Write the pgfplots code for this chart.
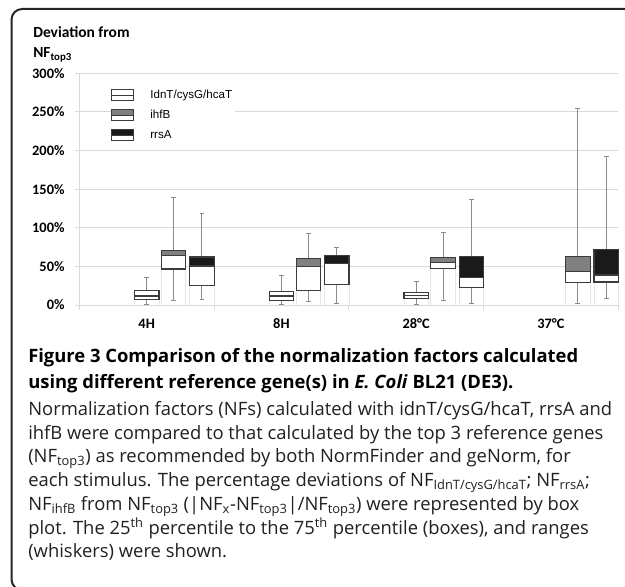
\documentclass[border=0pt]{standalone}
\usepackage{pgfplots}
\pgfplotsset{compat=1.18}
\usepackage{fontspec}
\setmainfont{Open Sans}
\newfontfamily\calib{Carlito}
\newfontfamily\arial{Liberation Sans}
\definecolor{gridc}{HTML}{D9D9D9}
\definecolor{basec}{HTML}{E6E6E6}
\definecolor{boxc}{HTML}{3C3C3C}
\definecolor{whisc}{HTML}{8C8C8C}
\definecolor{ihfc}{HTML}{808080}
\definecolor{rrsc}{HTML}{1A1A1A}
\definecolor{capc}{HTML}{231F20}
\begin{document}
\begin{tikzpicture}
\begin{scope}[x=0.75pt,y=0.75pt]
\useasboundingbox (0,0) rectangle (625,586);
\draw[line width=1.5pt, color=black!85, rounded corners=8pt] (11.5,-4) rectangle (660,577);
\node[anchor=base west, inner sep=0pt, font=\calib\bfseries\fontsize{11.6}{13}\selectfont] at (33,548.3) {Deviation from};
\node[anchor=base west, inner sep=0pt, font=\calib\bfseries\fontsize{11.6}{13}\selectfont] at (33,528) {NF\textsubscript{top3}};
\end{scope}
\begin{axis}[
  at={(59.475pt,210.75pt)}, anchor=south west,
  scale only axis, width=404.25pt, height=173.8pt,
  xmin=-0.5, xmax=3.5, ymin=0, ymax=300, clip=false,
  unbounded coords=jump,
  axis x line*=bottom, axis y line*=left,
  axis line style={draw=gridc, line width=0.6pt},
  ymajorgrids, grid style={draw=gridc, line width=0.6pt},
  ytick={0,50,100,150,200,250,300},
  yticklabels={0\%,50\%,100\%,150\%,200\%,250\%,300\%},
  xtick={0,1,2,3}, xticklabels={4H,8H,28°C,37°C},
  minor xtick={-0.5,0.5,1.5,2.5,3.5},
  tick align=outside, major tick length=3pt, minor tick length=3.75pt,
  every tick/.style={draw=gridc, line width=0.6pt},
  every major x tick/.append style={draw=none},
  ticklabel style={font=\calib\bfseries\fontsize{10.8}{12}\selectfont},
  yticklabel style={xshift=-4.5pt},
  xticklabel style={yshift=-3.75pt},
  /pgf/number format/assume math mode=true,
  legend cell align=left,
  legend style={draw=none, fill=white, at={(0.0588,0.943)}, anchor=north west,
    inner xsep=0pt, inner ysep=0pt, row sep=2.6pt,
    font=\arial\fontsize{8.7}{10}\selectfont,
    nodes={text height=6.5pt, text depth=2pt},
    /tikz/every odd column/.append style={column sep=10pt}},
]
% faint outlines from 0 to the lower quartile
\addplot[draw=basec, line width=0.6pt, forget plot] coordinates {
 (-0.091,0)(-0.091,6.9)(0.091,6.9)(0.091,0) (0,nan)
 (0.109,0)(0.109,46.6)(0.291,46.6)(0.291,0) (0,nan)
 (0.319,0)(0.319,25)(0.501,25)(0.501,0) (0,nan)
 (0.909,0)(0.909,6)(1.091,6)(1.091,0) (0,nan)
 (1.109,0)(1.109,19)(1.291,19)(1.291,0) (0,nan)
 (1.319,0)(1.319,26.8)(1.501,26.8)(1.501,0) (0,nan)
 (1.909,0)(1.909,8)(2.091,8)(2.091,0) (0,nan)
 (2.109,0)(2.109,47.5)(2.291,47.5)(2.291,0) (0,nan)
 (2.319,0)(2.319,23)(2.501,23)(2.501,0) (0,nan)
 (3.109,0)(3.109,29)(3.291,29)(3.291,0) (0,nan)
 (3.319,0)(3.319,29.8)(3.5,29.8)(3.5,0)
};
% whiskers: minimum to maximum
\addplot[draw=whisc, line width=0.7pt, forget plot] coordinates {
 (0,0.5)(0,35) (0,nan)
 (0.2,6)(0.2,139) (0,nan)
 (0.41,7.4)(0.41,118) (0,nan)
 (1,1)(1,38) (0,nan)
 (1.2,4)(1.2,92) (0,nan)
 (1.41,1.7)(1.41,74) (0,nan)
 (2,1)(2,30) (0,nan)
 (2.2,6)(2.2,93.7) (0,nan)
 (2.41,1.7)(2.41,136) (0,nan)
 (3.2,2)(3.2,254) (0,nan)
 (3.41,8)(3.41,191.7)
};
\addplot[only marks, mark=-, mark size=1.8pt, mark options={draw=whisc, line width=0.7pt}, forget plot] coordinates {
 (0,0.5)(0,35) (0.2,6)(0.2,139) (0.41,7.4)(0.41,118)
 (1,1)(1,38) (1.2,4)(1.2,92) (1.41,1.7)(1.41,74)
 (2,1)(2,30) (2.2,6)(2.2,93.7) (2.41,1.7)(2.41,136)
 (3.2,2)(3.2,254) (3.41,8)(3.41,191.7)
};
% boxes: lower quartile to upper quartile
\addplot[draw=boxc, fill=white, line width=0.9pt, line cap=rect, line join=miter, forget plot] coordinates {
 (-0.091,6.9)(0.091,6.9)(0.091,18.5)(-0.091,18.5)(-0.091,6.9) (0,nan)
 (0.109,46.6)(0.291,46.6)(0.291,70.8)(0.109,70.8)(0.109,46.6) (0,nan)
 (0.319,25)(0.501,25)(0.501,62.2)(0.319,62.2)(0.319,25) (0,nan)
 (0.909,6)(1.091,6)(1.091,17.3)(0.909,17.3)(0.909,6) (0,nan)
 (1.109,19)(1.291,19)(1.291,60)(1.109,60)(1.109,19) (0,nan)
 (1.319,26.8)(1.501,26.8)(1.501,64)(1.319,64)(1.319,26.8) (0,nan)
 (1.909,8)(2.091,8)(2.091,16)(1.909,16)(1.909,8) (0,nan)
 (2.109,47.5)(2.291,47.5)(2.291,62)(2.109,62)(2.109,47.5) (0,nan)
 (2.319,23)(2.501,23)(2.501,62.6)(2.319,62.6)(2.319,23) (0,nan)
 (3.109,29)(3.291,29)(3.291,62.6)(3.109,62.6)(3.109,29) (0,nan)
 (3.319,29.8)(3.5,29.8)(3.5,72)(3.319,72)(3.319,29.8)
};
% ihfB: median to upper quartile (grey)
\addplot[draw=boxc, fill=ihfc, line width=0.9pt, line cap=rect, line join=miter, forget plot] coordinates {
 (0.109,64.4)(0.291,64.4)(0.291,70.8)(0.109,70.8)(0.109,64.4) (0,nan)
 (1.109,49.6)(1.291,49.6)(1.291,60)(1.109,60)(1.109,49.6) (0,nan)
 (2.109,54.8)(2.291,54.8)(2.291,62)(2.109,62)(2.109,54.8) (0,nan)
 (3.109,43.6)(3.291,43.6)(3.291,62.6)(3.109,62.6)(3.109,43.6)
};
% rrsA: median to upper quartile (black)
\addplot[draw=boxc, fill=rrsc, line width=0.9pt, line cap=rect, line join=miter, forget plot] coordinates {
 (0.319,50.5)(0.501,50.5)(0.501,62.2)(0.319,62.2)(0.319,50.5) (0,nan)
 (1.319,54)(1.501,54)(1.501,64)(1.319,64)(1.319,54) (0,nan)
 (2.319,35.4)(2.501,35.4)(2.501,62.6)(2.319,62.6)(2.319,35.4) (0,nan)
 (3.319,38.9)(3.5,38.9)(3.5,72)(3.319,72)(3.319,38.9)
};
% idnT medians
\addplot[draw=boxc, line width=0.9pt, forget plot] coordinates {
 (-0.091,11.7)(0.091,11.7) (0,nan)
 (0.909,11.7)(1.091,11.7) (0,nan)
 (1.909,12)(2.091,12)
};
% legend
\addlegendimage{legend image code/.code={
  \draw[draw=boxc, fill=white, line width=0.8pt] (0pt,-4.2pt) rectangle (16.5pt,0pt);
  \draw[draw=boxc, fill=white, line width=0.8pt] (0pt,0pt) rectangle (16.5pt,4.2pt);}}
\addlegendentry{IdnT/cysG/hcaT}
\addlegendimage{legend image code/.code={
  \draw[draw=boxc, fill=white, line width=0.8pt] (0pt,-4.2pt) rectangle (16.5pt,0pt);
  \draw[draw=boxc, fill=ihfc, line width=0.8pt] (0pt,0pt) rectangle (16.5pt,4.2pt);}}
\addlegendentry{ihfB}
\addlegendimage{legend image code/.code={
  \draw[draw=boxc, fill=white, line width=0.8pt] (0pt,-4.2pt) rectangle (16.5pt,0pt);
  \draw[draw=boxc, fill=rrsc, line width=0.8pt] (0pt,0pt) rectangle (16.5pt,4.2pt);}}
\addlegendentry{rrsA}
\end{axis}
% caption
\begin{scope}[x=0.75pt,y=0.75pt,every node/.style={anchor=base west, inner sep=0pt, text=capc}]
\node[font=\bfseries\fontsize{13.8}{15}\selectfont, text=black] at (28,223) {Figure 3 Comparison of the normalization factors calculated};
\node[font=\bfseries\fontsize{13.8}{15}\selectfont, text=black] at (28,197.5) {using different reference gene(s) in \textit{E. Coli} BL21 (DE3).};
\node[font=\fontsize{13.8}{15}\selectfont] at (28,170.5) {Normalization factors (NFs) calculated with idnT/cysG/hcaT, rrsA and};
\node[font=\fontsize{13.8}{15}\selectfont] at (28,146.8) {ihfB were compared to that calculated by the top 3 reference genes};
\node[font=\fontsize{13.8}{15}\selectfont] at (28,123.1) {(NF\textsubscript{top3}) as recommended by both NormFinder and geNorm, for};
\node[font=\fontsize{13.8}{15}\selectfont] at (28,99.4) {each stimulus. The percentage deviations of NF\textsubscript{IdnT/cysG/hcaT}; NF\textsubscript{rrsA};};
\node[font=\fontsize{13.8}{15}\selectfont] at (28,75.7) {NF\textsubscript{ihfB} from NF\textsubscript{top3} (|NF\textsubscript{x}-NF\textsubscript{top3}|/NF\textsubscript{top3}) were represented by box};
\node[font=\fontsize{13.8}{15}\selectfont] at (28,52) {plot. The 25\textsuperscript{th} percentile to the 75\textsuperscript{th} percentile (boxes), and ranges};
\node[font=\fontsize{13.8}{15}\selectfont] at (28,28.3) {(whiskers) were shown.};
\end{scope}
\end{tikzpicture}
\end{document}
